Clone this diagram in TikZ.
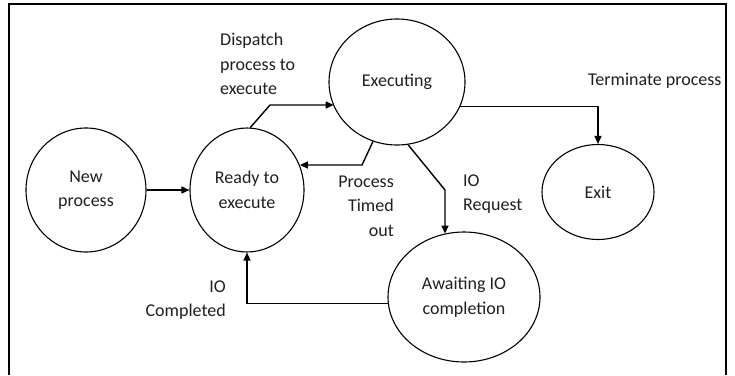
\documentclass[tikz,border=0pt]{standalone}
\usepackage{fontspec}
\setmainfont{Carlito}
\usetikzlibrary{shapes.geometric,arrows.meta}
\begin{document}
\begin{tikzpicture}[x=1pt,y=-1pt,
  txt/.style={font=\fontsize{18}{24.5}\selectfont,text=black!88},
  state/.style={ellipse,draw,line width=1.1pt,inner sep=0pt,align=center,txt},
  lbl/.style={inner sep=0pt,txt},
  arr/.style={line width=1.4pt,-{Triangle[length=8pt,width=7pt]}}]
\useasboundingbox (0,0) rectangle (735,375);
% outer frame (open at the bottom)
\draw[line width=1.2pt] (9,375) -- (9,4) -- (726,4) -- (726,375);

% states
\node[state,minimum width=120pt,minimum height=124pt] (new)   at (86,190)  {New\\process};
\node[state,minimum width=114pt,minimum height=124pt] (ready) at (247,190) {Ready to\\execute};
\node[state,minimum width=136pt,minimum height=126pt] (exec)  at (397,82)  {Executing};
\node[state,minimum width=112pt,minimum height=95pt]  (exit)  at (598,192) {Exit};
\node[state,minimum width=152pt,minimum height=130pt] (await) at (464,297) {Awaiting IO\\completion};

% bend points
\coordinate (d1) at (270,105);
\coordinate (t1) at (362,165);
\coordinate (r1) at (445,190);

% transitions
\draw[arr] (new.east) -- (ready.west);
\draw[arr] (ready.87) -- (d1) -- (exec.201 |- d1);
\draw[arr] (exec.248) -- (t1) -- (ready.25 |- t1);
\draw[arr] (exec.280) -- (r1) -- (r1 |- await.107);
\draw[arr] (exec.339) -| (exit.north);
\draw[arr] (await.185) -| (ready.south);

% transition labels
\node[lbl,anchor=west,align=left]  (lDispatch) at (220,64)  {Dispatch\\process to\\execute};
\node[lbl,anchor=west]             (lTerm)     at (588,81)  {Terminate process};
\node[lbl,anchor=east,align=right] (lTimed)    at (394,206) {Process\\Timed\\out};
\node[lbl,anchor=west,align=left]  (lIOReq)    at (463,194) {IO\\Request};
\node[lbl,anchor=east,align=right] (lIODone)   at (226,300) {IO\\Completed};
\end{tikzpicture}
\end{document}
